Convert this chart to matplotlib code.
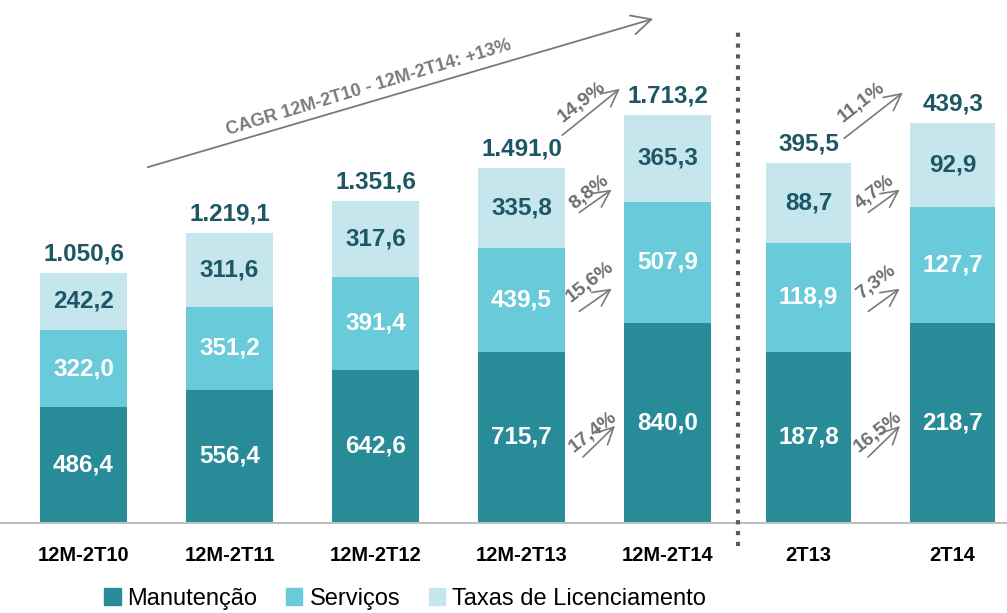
import matplotlib
matplotlib.use('Agg')
from matplotlib import pyplot as plt
from matplotlib.patches import Patch, FancyArrowPatch

plt.rcParams['font.family'] = ['Liberation Sans Narrow', 'Liberation Sans', 'DejaVu Sans']

# dados
cats_12m = ['12M-2T10', '12M-2T11', '12M-2T12', '12M-2T13', '12M-2T14']
manut_12m = [486.4, 556.4, 642.6, 715.7, 840.0]
serv_12m = [322.0, 351.2, 391.4, 439.5, 507.9]
taxas_12m = [242.2, 311.6, 317.6, 335.8, 365.3]
total_12m = ['1.050,6', '1.219,1', '1.351,6', '1.491,0', '1.713,2']

cats_tri = ['2T13', '2T14']
manut_tri = [187.8, 218.7]
serv_tri = [118.9, 127.7]
taxas_tri = [88.7, 92.9]
total_tri = ['395,5', '439,3']

cresc_12m = ['14,9%', '8,8%', '15,6%', '17,4%']
cresc_tri = ['11,1%', '4,7%', '7,3%', '16,5%']
cagr = 'CAGR 12M-2T10 - 12M-2T14: +13%'

c_man, c_serv, c_tax = '#288b98', '#69cbd9', '#c5e6ed'
escuro = '#1d5766'
cinza = '#7a7a7a'

W, H = 1007, 613
fig = plt.figure(figsize=(W / 100, H / 100), dpi=100)
base = 522.5


def fmt(v):
    return ('%.1f' % v).replace('.', ',')


def px(x, y):
    return (x / W, 1 - y / H)


ax1 = fig.add_axes([0, (H - base) / H, 737 / W, base / H])
ax2 = fig.add_axes([738 / W, (H - base) / H, 269 / W, base / H])


def desenha(ax, cats, man, serv, tax, tot, ymax, xl, largura):
    xs = range(len(cats))
    b1 = [m + s for m, s in zip(man, serv)]
    ax.bar(xs, man, largura, color=c_man)
    ax.bar(xs, serv, largura, bottom=man, color=c_serv)
    ax.bar(xs, tax, largura, bottom=b1, color=c_tax)
    for i in xs:
        ax.text(i, man[i] / 2, fmt(man[i]), ha='center', va='center', color='white',
                fontsize=17.5, fontweight='bold')
        ax.text(i, man[i] + serv[i] / 2, fmt(serv[i]), ha='center', va='center', color='white',
                fontsize=17.5, fontweight='bold')
        ax.text(i, b1[i] + tax[i] / 2, fmt(tax[i]), ha='center', va='center', color=escuro,
                fontsize=17.5, fontweight='bold')
        ax.text(i, b1[i] + tax[i] + ymax * 0.014, tot[i], ha='center', va='bottom', color=escuro,
                fontsize=17.5, fontweight='bold')
    ax.set_xlim(*xl)
    ax.set_ylim(0, ymax)
    ax.set_xticks(list(xs))
    ax.set_xticklabels(cats, fontsize=14.5, fontweight='bold')
    ax.tick_params(axis='x', length=0, pad=17)
    ax.set_yticks([])
    for s in ['top', 'right', 'left']:
        ax.spines[s].set_visible(False)
    ax.spines['bottom'].set_color('#bfbfbf')
    ax.spines['bottom'].set_linewidth(1.5)
    ax.patch.set_alpha(0)


desenha(ax1, cats_12m, manut_12m, serv_12m, taxas_12m, total_12m, 2197, (-0.572, 4.476), 0.596)
desenha(ax2, cats_tri, manut_tri, serv_tri, taxas_tri, total_tri, 574, (-0.49, 1.378), 0.59)

# linha pontilhada separadora
fig.add_artist(plt.Line2D([738 / W, 738 / W], [px(0, 546)[1], px(0, 26)[1]], transform=fig.transFigure,
                          color='#595959', lw=3, ls=(0, (1, 1.6))))

# seta CAGR
fig.add_artist(FancyArrowPatch(px(145, 168), px(656, 18), transform=fig.transFigure,
                               arrowstyle='->,head_length=7,head_width=3.5', color=cinza,
                               lw=1.3, mutation_scale=2))
fig.text(*px(369, 88), cagr, rotation=16.8, ha='center', va='center', color=cinza,
         fontsize=13, fontweight='bold', rotation_mode='anchor')


def seta(x0, y0, x1, y1, txt, tx, ty):
    fig.add_artist(FancyArrowPatch(px(x0, y0), px(x1, y1), transform=fig.transFigure,
                                   arrowstyle='->,head_length=6,head_width=3',
                                   color=cinza, lw=1.2, mutation_scale=2))
    fig.text(*px(tx, ty), txt, rotation=38, ha='center', va='center', color='#6e6e6e',
             fontsize=14, fontweight='bold', rotation_mode='anchor')


# (x0, y0, x1, y1, texto x, texto y)
pos_12m = [(560, 137, 622, 87, 582, 102), (577, 214, 614, 188, 589, 192),
           (577, 313, 614, 287, 590, 282), (581, 459, 617, 424, 593, 432)]
pos_tri = [(842, 140, 905, 91, 862, 102), (866, 214, 902, 188, 875, 192),
           (866, 313, 902, 287, 876, 282), (866, 459, 902, 424, 878, 432)]
for p, t in zip(pos_12m + pos_tri, cresc_12m + cresc_tri):
    seta(p[0], p[1], p[2], p[3], t, p[4], p[5])

handles = [Patch(color=c_man), Patch(color=c_serv), Patch(color=c_tax)]
fig.legend(handles, ['Manutenção', 'Serviços', 'Taxas de Licenciamento'], loc='center',
           bbox_to_anchor=(px(405, 599)), ncol=3, frameon=False, fontsize=17,
           handlelength=0.7, handleheight=0.7, handletextpad=0.3, columnspacing=1.2)

fig.savefig('out.png', dpi=100)
